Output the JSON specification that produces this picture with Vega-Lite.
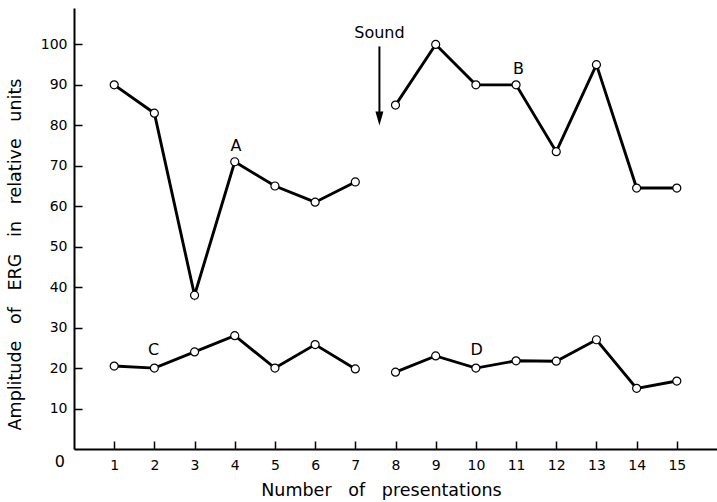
{
  "$schema": "https://vega.github.io/schema/vega-lite/v6.json",
  "width": 643,
  "height": 441,
  "autosize": {"type": "none"},
  "padding": {"left": 74, "top": 8, "right": 0, "bottom": 53},
  "background": "white",
  "config": {
    "view": {"stroke": null},
    "font": "DejaVu Sans",
    "axis": {
      "grid": false,
      "domainColor": "black",
      "domainWidth": 2,
      "tickColor": "black",
      "tickWidth": 1.5,
      "tickSize": -8,
      "labelColor": "black",
      "labelFont": "DejaVu Sans",
      "labelFontSize": 14,
      "titleColor": "black",
      "titleFont": "DejaVu Sans",
      "titleFontWeight": "normal",
      "titleFontSize": 17.5
    }
  },
  "datasets": {
    "erg": [
      {"n": 1, "amp": 90, "series": "A"},
      {"n": 2, "amp": 83, "series": "A"},
      {"n": 3, "amp": 38, "series": "A"},
      {"n": 4, "amp": 71, "series": "A"},
      {"n": 5, "amp": 65, "series": "A"},
      {"n": 6, "amp": 61, "series": "A"},
      {"n": 7, "amp": 66, "series": "A"},
      {"n": 8, "amp": 85, "series": "B"},
      {"n": 9, "amp": 100, "series": "B"},
      {"n": 10, "amp": 90, "series": "B"},
      {"n": 11, "amp": 90, "series": "B"},
      {"n": 12, "amp": 73.5, "series": "B"},
      {"n": 13, "amp": 95, "series": "B"},
      {"n": 14, "amp": 64.5, "series": "B"},
      {"n": 15, "amp": 64.5, "series": "B"},
      {"n": 1, "amp": 20.5, "series": "C"},
      {"n": 2, "amp": 20, "series": "C"},
      {"n": 3, "amp": 24, "series": "C"},
      {"n": 4, "amp": 28, "series": "C"},
      {"n": 5, "amp": 20, "series": "C"},
      {"n": 6, "amp": 25.8, "series": "C"},
      {"n": 7, "amp": 19.8, "series": "C"},
      {"n": 8, "amp": 19, "series": "D"},
      {"n": 9, "amp": 23, "series": "D"},
      {"n": 10, "amp": 20, "series": "D"},
      {"n": 11, "amp": 21.8, "series": "D"},
      {"n": 12, "amp": 21.7, "series": "D"},
      {"n": 13, "amp": 27, "series": "D"},
      {"n": 14, "amp": 15, "series": "D"},
      {"n": 15, "amp": 16.8, "series": "D"}
    ],
    "letters": [
      {"n": 4.03, "amp": 74.8, "text": "A"},
      {"n": 11.06, "amp": 94, "text": "B"},
      {"n": 1.98, "amp": 24.5, "text": "C"},
      {"n": 10.02, "amp": 24.5, "text": "D"},
      {"n": 7.6, "amp": 102.7, "text": "Sound"},
      {"n": -0.35, "amp": -3.3, "text": "0"}
    ],
    "arrow": [
      {"n": 7.6, "top": 99.5, "bottom": 83, "head": 81.7}
    ]
  },
  "encoding": {
    "x": {
      "field": "n",
      "type": "quantitative",
      "scale": {"domain": [0, 16], "nice": false, "zero": false},
      "axis": {
        "values": [1, 2, 3, 4, 5, 6, 7, 8, 9, 10, 11, 12, 13, 14, 15],
        "labelPadding": 17,
        "title": "Number\u00a0\u00a0\u00a0of\u00a0\u00a0\u00a0presentations",
        "titleX": 307,
        "titleY": 41,
        "titleBaseline": "middle"
      }
    },
    "y": {
      "field": "amp",
      "type": "quantitative",
      "scale": {"domain": [0, 109], "nice": false},
      "axis": {
        "values": [10, 20, 30, 40, 50, 60, 70, 80, 90, 100],
        "labelPadding": 15,
        "title": "Amplitude\u00a0\u00a0\u00a0of\u00a0\u00a0\u00a0ERG\u00a0\u00a0\u00a0in\u00a0\u00a0\u00a0relative\u00a0\u00a0\u00a0units",
        "titleX": -59,
        "titleY": 246,
        "titleBaseline": "middle",
        "titleAngle": -90
      }
    }
  },
  "layer": [
    {
      "data": {"name": "erg"},
      "mark": {"type": "line", "color": "black", "strokeWidth": 2.9},
      "encoding": {"detail": {"field": "series"}}
    },
    {
      "data": {"name": "erg"},
      "mark": {"type": "point", "shape": "circle", "filled": true, "fill": "white", "stroke": "black", "strokeWidth": 1.2, "size": 64, "opacity": 1}
    },
    {
      "data": {"name": "letters"},
      "mark": {"type": "text", "fontSize": 16, "color": "black", "baseline": "middle", "align": "center"},
      "encoding": {"text": {"field": "text"}}
    },
    {
      "data": {"name": "arrow"},
      "mark": {"type": "rule", "color": "black", "strokeWidth": 2},
      "encoding": {
        "y": {"field": "top", "type": "quantitative"},
        "y2": {"field": "bottom"}
      }
    },
    {
      "data": {"name": "arrow"},
      "mark": {"type": "point", "shape": "M-0.57,-1L0.57,-1L0,1Z", "filled": true, "color": "black", "size": 196, "opacity": 1},
      "encoding": {
        "y": {"field": "head", "type": "quantitative"}
      }
    }
  ]
}
